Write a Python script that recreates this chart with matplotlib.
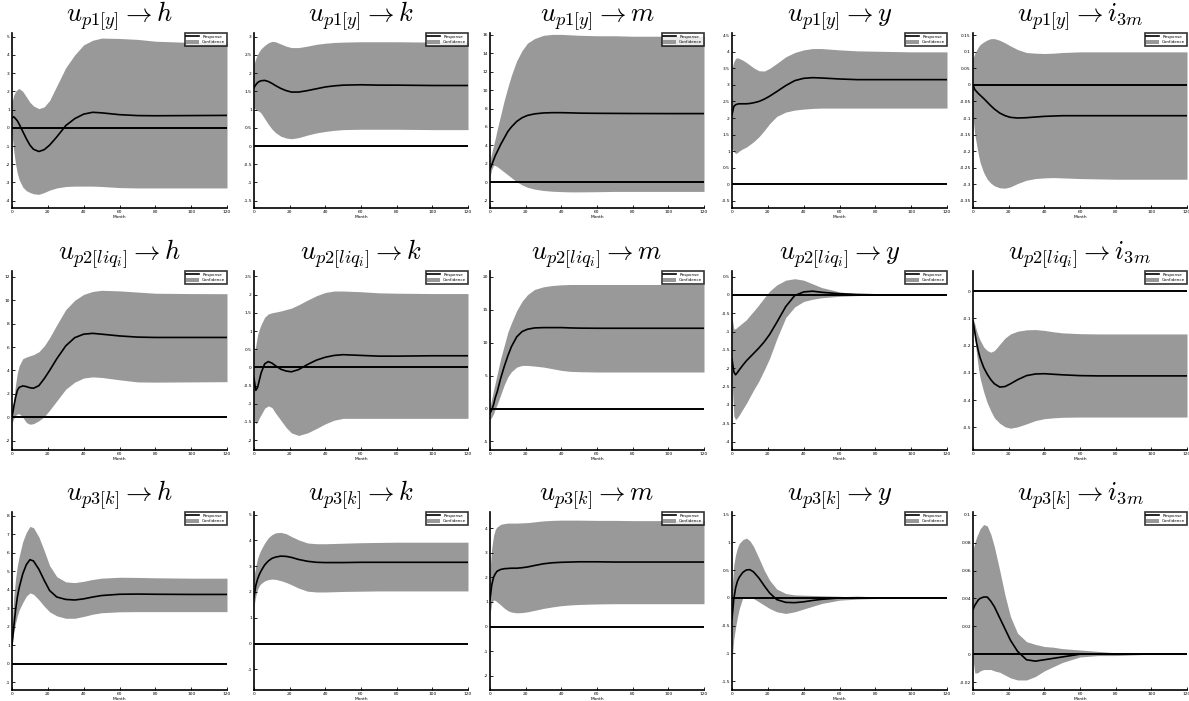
import matplotlib
matplotlib.use("Agg")
import matplotlib.pyplot as plt
import matplotlib.ticker as mticker
from matplotlib.patches import Patch
from matplotlib.lines import Line2D

plt.rcParams['mathtext.fontset'] = 'cm'
plt.rcParams['font.family'] = 'DejaVu Sans'

months = [0, 1, 2, 3, 4, 6, 8, 10, 12, 15, 18, 21, 25, 30, 35, 40, 45, 50, 60, 70, 80, 100, 120]

shocks = [r"u_{p1[y]}", r"u_{p2[liq_i]}", r"u_{p3[k]}"]
targets = ["h", "k", "m", "y", "i_{3m}"]

# row 1: shock p1[y]
r_p1_h = [0.55, 0.6, 0.5, 0.38, 0.2, -0.2, -0.6, -0.95, -1.18, -1.3, -1.2, -0.95, -0.5, 0.12, 0.5, 0.75, 0.85, 0.82, 0.72, 0.67, 0.66, 0.67, 0.68]
hi_p1_h = [1.4, 1.8, 2.0, 2.1, 2.15, 2.0, 1.7, 1.4, 1.2, 1.05, 1.15, 1.5, 2.3, 3.3, 4.0, 4.55, 4.8, 4.92, 4.9, 4.85, 4.75, 4.68, 4.65]
lo_p1_h = [-0.3, -1.3, -2.0, -2.5, -2.85, -3.25, -3.45, -3.55, -3.62, -3.65, -3.55, -3.42, -3.3, -3.22, -3.2, -3.2, -3.2, -3.22, -3.28, -3.3, -3.3, -3.3, -3.3]

r_p1_k = [1.6, 1.68, 1.74, 1.77, 1.79, 1.8, 1.77, 1.72, 1.66, 1.58, 1.52, 1.48, 1.48, 1.52, 1.57, 1.62, 1.65, 1.67, 1.68, 1.67, 1.67, 1.66, 1.66]
hi_p1_k = [2.25, 2.4, 2.52, 2.6, 2.67, 2.76, 2.83, 2.87, 2.86, 2.8, 2.74, 2.7, 2.7, 2.74, 2.79, 2.82, 2.84, 2.85, 2.86, 2.86, 2.86, 2.85, 2.85]
lo_p1_k = [1.05, 1.0, 0.97, 0.95, 0.9, 0.75, 0.6, 0.47, 0.37, 0.27, 0.22, 0.2, 0.23, 0.3, 0.36, 0.4, 0.43, 0.45, 0.46, 0.46, 0.46, 0.45, 0.45]

r_p1_m = [1.4, 1.9, 2.4, 2.9, 3.3, 4.1, 4.8, 5.5, 6.0, 6.6, 7.0, 7.25, 7.42, 7.52, 7.55, 7.55, 7.53, 7.5, 7.48, 7.47, 7.46, 7.45, 7.45]
hi_p1_m = [2.4, 3.2, 4.0, 4.8, 5.7, 7.3, 8.9, 10.3, 11.6, 13.2, 14.3, 15.1, 15.6, 15.95, 16.05, 16.05, 16.0, 15.95, 15.9, 15.9, 15.85, 15.85, 15.85]
lo_p1_m = [0.6, 1.4, 1.85, 1.8, 1.7, 1.4, 1.1, 0.8, 0.5, 0.05, -0.3, -0.55, -0.75, -0.9, -0.98, -1.02, -1.05, -1.05, -1.03, -1.0, -1.0, -1.0, -1.0]

r_p1_y = [2.1, 2.35, 2.4, 2.42, 2.43, 2.43, 2.43, 2.44, 2.46, 2.5, 2.57, 2.66, 2.8, 2.98, 3.13, 3.2, 3.22, 3.21, 3.18, 3.16, 3.16, 3.16, 3.16]
hi_p1_y = [3.5, 3.7, 3.8, 3.82, 3.8, 3.75, 3.68, 3.6, 3.52, 3.43, 3.42, 3.5, 3.65, 3.85, 3.98, 4.06, 4.1, 4.1, 4.06, 4.03, 4.02, 4.0, 4.0]
lo_p1_y = [1.1, 0.98, 0.93, 0.95, 1.0, 1.07, 1.12, 1.2, 1.28, 1.43, 1.62, 1.83, 2.05, 2.18, 2.24, 2.27, 2.29, 2.3, 2.3, 2.3, 2.3, 2.3, 2.3]

r_p1_i = [0.0, -0.014, -0.02, -0.026, -0.031, -0.041, -0.052, -0.063, -0.073, -0.085, -0.093, -0.098, -0.1, -0.099, -0.097, -0.095, -0.094, -0.093, -0.093, -0.093, -0.093, -0.093, -0.093]
hi_p1_i = [0.08, 0.095, 0.105, 0.115, 0.122, 0.13, 0.136, 0.14, 0.14, 0.135, 0.127, 0.118, 0.107, 0.098, 0.096, 0.095, 0.096, 0.098, 0.1, 0.1, 0.1, 0.1, 0.1]
lo_p1_i = [-0.1, -0.15, -0.18, -0.21, -0.235, -0.265, -0.285, -0.297, -0.305, -0.311, -0.312, -0.308, -0.298, -0.288, -0.283, -0.281, -0.28, -0.281, -0.283, -0.284, -0.285, -0.285, -0.285]

# row 2: shock p2[liq_i]
r_p2_h = [0.0, 0.9, 1.7, 2.3, 2.55, 2.68, 2.62, 2.52, 2.48, 2.7, 3.3, 4.0, 5.0, 6.1, 6.8, 7.1, 7.17, 7.1, 6.95, 6.85, 6.82, 6.82, 6.82]
hi_p2_h = [0.4, 1.5, 2.8, 3.8, 4.4, 5.0, 5.15, 5.25, 5.35, 5.6, 6.1, 6.8, 7.9, 9.2, 10.0, 10.5, 10.75, 10.85, 10.8, 10.7, 10.6, 10.57, 10.56]
lo_p2_h = [-0.5, -0.1, 0.15, 0.28, 0.3, 0.0, -0.45, -0.6, -0.55, -0.3, 0.05, 0.6, 1.4, 2.4, 3.0, 3.35, 3.45, 3.4, 3.2, 3.02, 3.0, 3.02, 3.04]

r_p2_k = [-0.3, -0.63, -0.55, -0.35, -0.15, 0.1, 0.16, 0.12, 0.05, -0.05, -0.1, -0.12, -0.06, 0.08, 0.2, 0.28, 0.33, 0.35, 0.33, 0.31, 0.31, 0.32, 0.32]
hi_p2_k = [0.4, 0.6, 0.9, 1.05, 1.18, 1.38, 1.47, 1.5, 1.52, 1.55, 1.59, 1.63, 1.72, 1.85, 1.97, 2.06, 2.1, 2.1, 2.08, 2.05, 2.04, 2.03, 2.03]
lo_p2_k = [-1.43, -1.55, -1.5, -1.38, -1.3, -1.12, -1.06, -1.1, -1.25, -1.45, -1.65, -1.8, -1.87, -1.8, -1.68, -1.55, -1.45, -1.4, -1.4, -1.4, -1.4, -1.4, -1.4]

r_p2_m = [-0.7, -0.2, 0.6, 1.7, 2.5, 4.6, 6.4, 8.0, 9.4, 10.9, 11.7, 12.05, 12.25, 12.3, 12.3, 12.3, 12.25, 12.22, 12.2, 12.2, 12.2, 12.2, 12.2]
hi_p2_m = [0.3, 1.5, 2.8, 4.0, 5.2, 7.6, 9.6, 11.6, 13.0, 14.9, 16.3, 17.3, 18.1, 18.5, 18.7, 18.8, 18.85, 18.85, 18.85, 18.85, 18.85, 18.85, 18.85]
lo_p2_m = [-1.7, -1.3, -0.8, 0.0, 0.6, 2.1, 3.6, 4.8, 5.6, 6.3, 6.55, 6.55, 6.45, 6.3, 6.05, 5.8, 5.65, 5.6, 5.55, 5.55, 5.55, 5.55, 5.55]

r_p2_y = [-1.75, -2.1, -2.18, -2.12, -2.05, -1.92, -1.8, -1.7, -1.6, -1.45, -1.28, -1.08, -0.75, -0.32, -0.02, 0.08, 0.1, 0.07, 0.03, 0.01, 0.0, 0.0, 0.0]
hi_p2_y = [-0.6, -0.93, -0.92, -0.88, -0.84, -0.76, -0.68, -0.56, -0.45, -0.27, -0.08, 0.1, 0.27, 0.4, 0.44, 0.4, 0.3, 0.2, 0.08, 0.03, 0.02, 0.0, 0.0]
lo_p2_y = [-2.3, -3.3, -3.4, -3.35, -3.28, -3.12, -2.96, -2.78, -2.6, -2.35, -2.05, -1.73, -1.2, -0.62, -0.33, -0.18, -0.12, -0.08, -0.04, -0.02, -0.01, 0.0, 0.0]

r_p2_i = [-0.11, -0.15, -0.19, -0.22, -0.245, -0.28, -0.305, -0.325, -0.34, -0.352, -0.35, -0.34, -0.325, -0.31, -0.304, -0.303, -0.305, -0.307, -0.31, -0.311, -0.311, -0.311, -0.311]
hi_p2_i = [-0.1, -0.12, -0.145, -0.165, -0.18, -0.205, -0.218, -0.224, -0.218, -0.195, -0.172, -0.157, -0.147, -0.142, -0.141, -0.144, -0.149, -0.153, -0.156, -0.157, -0.157, -0.157, -0.157]
lo_p2_i = [-0.12, -0.17, -0.23, -0.28, -0.32, -0.37, -0.41, -0.44, -0.465, -0.485, -0.498, -0.503, -0.498, -0.487, -0.475, -0.468, -0.465, -0.463, -0.462, -0.462, -0.462, -0.462, -0.462]

# row 3: shock p3[k]
r_p3_h = [1.0, 2.0, 2.9, 3.6, 4.1, 4.85, 5.35, 5.62, 5.55, 5.1, 4.5, 3.95, 3.6, 3.47, 3.44, 3.5, 3.6, 3.68, 3.75, 3.76, 3.75, 3.74, 3.74]
hi_p3_h = [2.0, 3.6, 4.6, 5.3, 5.8, 6.6, 7.1, 7.42, 7.35, 6.85, 6.1, 5.3, 4.7, 4.42, 4.38, 4.45, 4.55, 4.62, 4.67, 4.66, 4.64, 4.62, 4.62]
lo_p3_h = [1.0, 1.7, 2.2, 2.6, 2.9, 3.3, 3.65, 3.82, 3.75, 3.45, 3.1, 2.8, 2.58, 2.45, 2.45, 2.55, 2.67, 2.75, 2.8, 2.81, 2.81, 2.81, 2.81]

r_p3_k = [1.8, 2.25, 2.5, 2.68, 2.82, 3.05, 3.2, 3.3, 3.35, 3.39, 3.38, 3.34, 3.26, 3.19, 3.15, 3.14, 3.14, 3.14, 3.15, 3.15, 3.15, 3.15, 3.15]
hi_p3_k = [2.6, 3.0, 3.3, 3.5, 3.65, 3.9, 4.1, 4.22, 4.29, 4.31, 4.26, 4.15, 4.02, 3.9, 3.87, 3.87, 3.88, 3.89, 3.91, 3.92, 3.93, 3.93, 3.93]
lo_p3_k = [1.45, 1.85, 2.1, 2.25, 2.33, 2.43, 2.48, 2.5, 2.49, 2.44, 2.37, 2.28, 2.15, 2.03, 2.0, 2.0, 2.01, 2.02, 2.03, 2.04, 2.04, 2.04, 2.04]

r_p3_m = [1.1, 1.7, 2.0, 2.15, 2.25, 2.32, 2.35, 2.36, 2.37, 2.37, 2.39, 2.42, 2.48, 2.55, 2.59, 2.61, 2.62, 2.63, 2.63, 2.62, 2.62, 2.62, 2.62]
hi_p3_m = [2.3, 3.2, 3.7, 3.95, 4.05, 4.15, 4.18, 4.2, 4.2, 4.2, 4.21, 4.22, 4.25, 4.29, 4.31, 4.32, 4.32, 4.32, 4.31, 4.31, 4.3, 4.3, 4.3]
lo_p3_m = [0.5, 1.0, 1.08, 1.06, 1.0, 0.88, 0.75, 0.65, 0.59, 0.56, 0.57, 0.6, 0.66, 0.74, 0.8, 0.85, 0.88, 0.9, 0.92, 0.93, 0.93, 0.93, 0.93]

r_p3_y = [-0.38, -0.02, 0.18, 0.3, 0.37, 0.46, 0.505, 0.51, 0.47, 0.36, 0.22, 0.09, -0.03, -0.08, -0.085, -0.07, -0.045, -0.025, 0.0, 0.005, 0.0, 0.0, 0.0]
hi_p3_y = [0.15, 0.6, 0.78, 0.9, 0.98, 1.05, 1.08, 1.03, 0.93, 0.72, 0.5, 0.32, 0.16, 0.08, 0.055, 0.05, 0.045, 0.04, 0.03, 0.015, 0.01, 0.003, 0.0]
lo_p3_y = [-1.13, -0.74, -0.53, -0.35, -0.2, 0.0, 0.02, 0.01, -0.01, -0.07, -0.13, -0.19, -0.25, -0.28, -0.25, -0.2, -0.15, -0.1, -0.04, -0.02, -0.01, 0.0, 0.0]

r_p3_i = [0.032, 0.035, 0.037, 0.039, 0.04, 0.041, 0.041, 0.038, 0.034, 0.026, 0.018, 0.01, 0.002, -0.004, -0.005, -0.004, -0.003, -0.002, 0.0, 0.0, 0.0, 0.0, 0.0]
hi_p3_i = [0.075, 0.08, 0.084, 0.087, 0.09, 0.093, 0.092, 0.086, 0.077, 0.06, 0.042, 0.027, 0.015, 0.009, 0.007, 0.0055, 0.005, 0.004, 0.003, 0.002, 0.001, 0.0, 0.0]
lo_p3_i = [-0.004, -0.0135, -0.0135, -0.013, -0.012, -0.011, -0.011, -0.011, -0.012, -0.013, -0.015, -0.017, -0.0185, -0.0185, -0.016, -0.012, -0.009, -0.006, -0.002, -0.001, -0.001, 0.0, 0.0]

resp = [[r_p1_h, r_p1_k, r_p1_m, r_p1_y, r_p1_i],
        [r_p2_h, r_p2_k, r_p2_m, r_p2_y, r_p2_i],
        [r_p3_h, r_p3_k, r_p3_m, r_p3_y, r_p3_i]]
upper = [[hi_p1_h, hi_p1_k, hi_p1_m, hi_p1_y, hi_p1_i],
         [hi_p2_h, hi_p2_k, hi_p2_m, hi_p2_y, hi_p2_i],
         [hi_p3_h, hi_p3_k, hi_p3_m, hi_p3_y, hi_p3_i]]
lower = [[lo_p1_h, lo_p1_k, lo_p1_m, lo_p1_y, lo_p1_i],
         [lo_p2_h, lo_p2_k, lo_p2_m, lo_p2_y, lo_p2_i],
         [lo_p3_h, lo_p3_k, lo_p3_m, lo_p3_y, lo_p3_i]]

# y axis limits and tick steps (matlab auto style)
ylims = [[(-4.4, 5.2), (-1.7, 3.1), (-2.8, 16.2), (-0.72, 4.57), (-0.372, 0.157)],
         [(-2.8, 12.5), (-2.27, 2.65), (-6.3, 20.9), (-4.23, 0.65), (-0.583, 0.074)],
         [(-1.43, 8.2), (-1.8, 5.1), (-2.57, 4.65), (-1.66, 1.55), (-0.0257, 0.102)]]
ysteps = [[1, 0.5, 2, 0.5, 0.05],
          [2, 0.5, 5, 0.5, 0.1],
          [1, 1, 1, 0.5, 0.02]]

fig = plt.figure(figsize=(11.89, 7.01), dpi=100)
W, H = 1189.0, 701.0
lefts = [12, 254, 490, 732, 973]
rights = [227, 468, 704, 947, 1187]
tops = [33, 271, 512]
bottoms = [208, 450, 690]

fmt = mticker.FuncFormatter(lambda v, p: '%g' % round(v, 8))

for i in range(3):
    for j in range(5):
        ax = fig.add_axes([lefts[j] / W, 1 - bottoms[i] / H,
                           (rights[j] - lefts[j]) / W, (bottoms[i] - tops[i]) / H])
        ax.fill_between(months, lower[i][j], upper[i][j], color='#999999', lw=0)
        ax.plot([0, 120], [0, 0], color='black', lw=1.4)
        ax.plot(months, resp[i][j], color='black', lw=1.2)
        ax.set_xlim(0, 120)
        ax.set_ylim(*ylims[i][j])
        ax.xaxis.set_major_locator(mticker.MultipleLocator(20))
        ax.yaxis.set_major_locator(mticker.MultipleLocator(ysteps[i][j]))
        ax.yaxis.set_major_formatter(fmt)
        ax.tick_params(direction='in', length=2, width=0.6, labelsize=3.2, pad=1.5)
        for s in ['top', 'right']:
            ax.spines[s].set_visible(False)
        for s in ['left', 'bottom']:
            ax.spines[s].set_linewidth(1.2)
        ax.set_xlabel('Month', fontsize=3.2, labelpad=1)
        ax.set_title('$' + shocks[i] + r' \rightarrow ' + targets[j] + '$',
                     fontsize=19, pad=4)
        handles = [Line2D([], [], color='black', lw=1.2),
                   Patch(facecolor='#999999', edgecolor='none')]
        leg = ax.legend(handles, ['Response', 'Confidence'], loc='upper right',
                        fontsize=3.0, borderaxespad=0.0, fancybox=False,
                        handlelength=3, handleheight=1.2, borderpad=0.4,
                        labelspacing=0.1, handletextpad=0.8)
        leg.get_frame().set_edgecolor('black')
        leg.get_frame().set_linewidth(1.2)

fig.savefig('out.png', dpi=100)
